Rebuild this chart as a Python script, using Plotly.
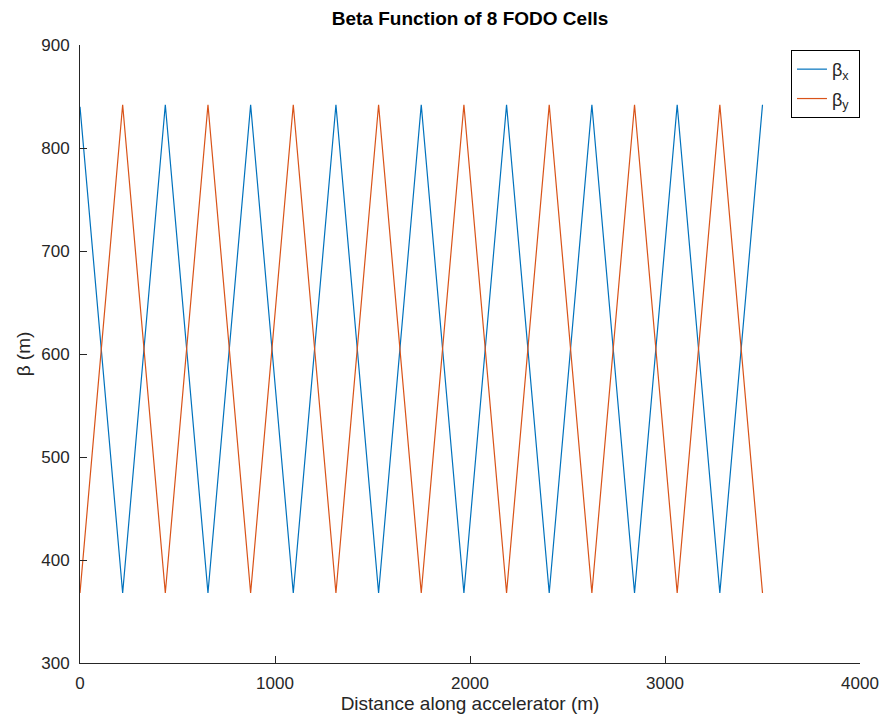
import plotly.graph_objects as go

# Vertex positions (m) and beta values (m)
bx_s = [0, 218.75, 437.5, 656.25, 875, 1093.75, 1312.5, 1531.25, 1750, 1968.75,
        2187.5, 2406.25, 2625, 2843.75, 3062.5, 3281.25, 3500]
bx_v = [840, 368, 842, 368, 842, 368, 842, 368, 842, 368, 842, 368, 842, 368, 842, 368, 842]
by_s = bx_s
by_v = [368, 842, 368, 842, 368, 842, 368, 842, 368, 842, 368, 842, 368, 842, 368, 842, 368]

x_ticks = [0, 1000, 2000, 3000, 4000]
y_ticks = [300, 400, 500, 600, 700, 800, 900]

BLUE = "#0072BD"
ORANGE = "#D95319"
AX = "#262626"
FONT = "Liberation Sans, Arial, sans-serif"

fig = go.Figure()
fig.add_trace(go.Scatter(x=bx_s, y=bx_v, mode="lines", name="β<sub>x</sub> ",
                         legendgroup="a", line=dict(color=BLUE, width=1.2)))
fig.add_trace(go.Scatter(x=by_s, y=by_v, mode="lines", name="β<sub>y</sub> ",
                         legendgroup="b", line=dict(color=ORANGE, width=1.2)))

fig.update_layout(
    width=884, height=715,
    margin=dict(l=80, r=24, t=45, b=52, autoexpand=False),
    paper_bgcolor="white", plot_bgcolor="white",
    font=dict(family=FONT, size=17, color=AX),
    title=dict(text="<b>Beta Function of 8 FODO Cells</b>", x=0.5, xref="paper",
               xanchor="center", y=0.975, yref="container", yanchor="middle",
               font=dict(size=19, color="black")),
    showlegend=True,
    legend=dict(x=0.9115, y=0.992, xanchor="left", yanchor="top",
                bordercolor="black", borderwidth=1, bgcolor="white",
                traceorder="grouped", tracegroupgap=3,
                font=dict(size=18, color=AX)),
    xaxis=dict(range=[0, 4000], tickvals=x_ticks, ticks="inside", ticklen=7,
               tickcolor=AX, showline=True, linecolor=AX, linewidth=1,
               showgrid=False, zeroline=False, automargin=False,
               ticklabelstandoff=5,
               title=dict(text="Distance along accelerator (m)", standoff=3,
                          font=dict(size=19, color=AX))),
    yaxis=dict(range=[300, 900], tickvals=y_ticks, ticks="inside", ticklen=7,
               tickcolor=AX, showline=True, linecolor=AX, linewidth=1,
               showgrid=False, zeroline=False, automargin=False,
               ticklabelstandoff=6,
               title=dict(text="β (m)", standoff=5, font=dict(size=19, color=AX))),
)

fig.write_html("out.html")
